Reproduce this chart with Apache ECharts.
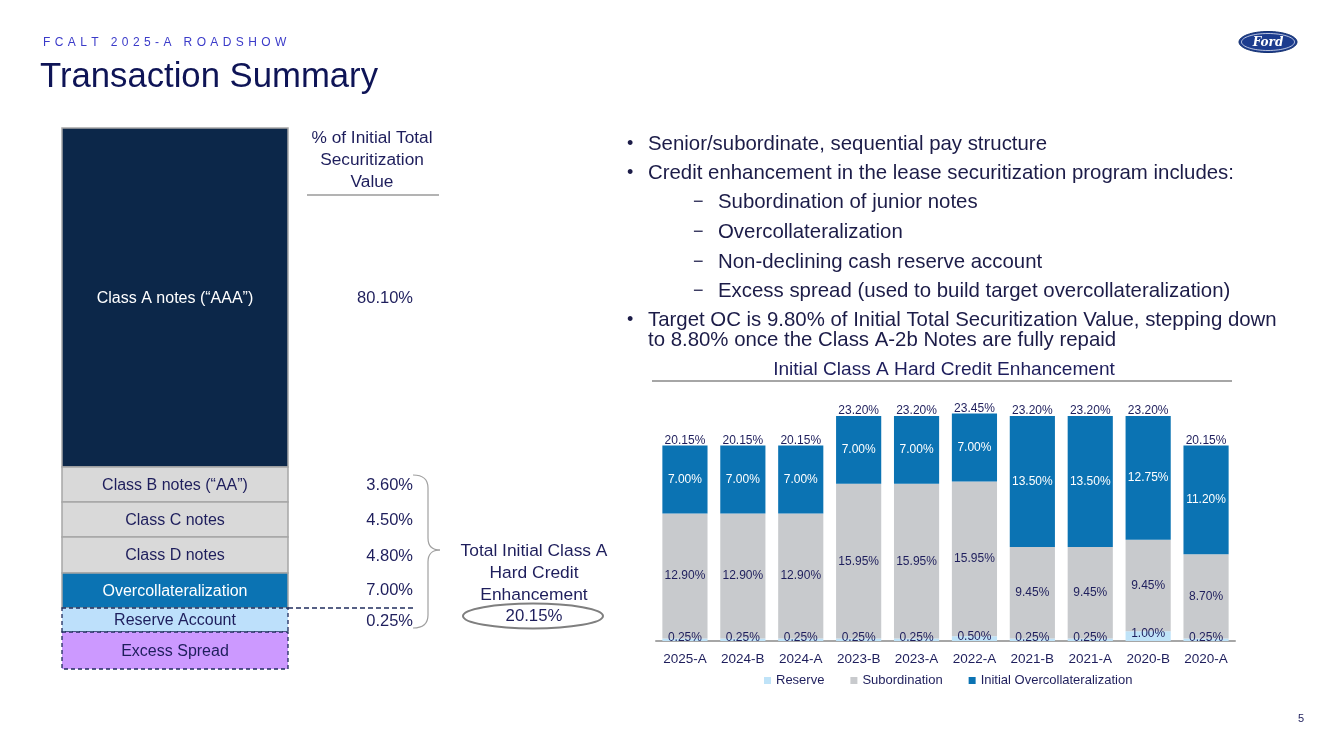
<!DOCTYPE html>
<html>
<head>
<meta charset="utf-8">
<script src="https://cdn.jsdelivr.net/npm/echarts@6/dist/echarts.min.js"></script>
<style>
  html, body { margin: 0; padding: 0; background: #ffffff; }
  #chart { width: 1333px; height: 749px; }
</style>
</head>
<body>
<div id="chart"></div>
<script>
// ---------------- Data ----------------
const headerText = 'FCALT 2025-A ROADSHOW';
const pageTitle = 'Transaction Summary';
const pageNumber = '5';

const categories = ['2025-A', '2024-B', '2024-A', '2023-B', '2023-A', '2022-A', '2021-B', '2021-A', '2020-B', '2020-A'];
const reserve = [0.25, 0.25, 0.25, 0.25, 0.25, 0.50, 0.25, 0.25, 1.00, 0.25];
const subordination = [12.90, 12.90, 12.90, 15.95, 15.95, 15.95, 9.45, 9.45, 9.45, 8.70];
const initialOC = [7.00, 7.00, 7.00, 7.00, 7.00, 7.00, 13.50, 13.50, 12.75, 11.20];
const totals = [20.15, 20.15, 20.15, 23.20, 23.20, 23.45, 23.20, 23.20, 23.20, 20.15];
const seriesNames = ['Reserve', 'Subordination', 'Initial Overcollateralization'];
const chartTitle = 'Initial Class A Hard Credit Enhancement';

const stackLayers = ['Class A notes (\u201CAAA\u201D)', 'Class B notes (\u201CAA\u201D)', 'Class C notes', 'Class D notes', 'Overcollateralization', 'Reserve Account', 'Excess Spread'];
const stackValues = ['80.10%', '3.60%', '4.50%', '4.80%', '7.00%', '0.25%', ''];
const pctHeader = ['% of Initial Total', 'Securitization', 'Value'];
const totalCaption = ['Total Initial Class A', 'Hard Credit', 'Enhancement'];
const totalValue = '20.15%';

const bulletLines = [
  { kind: 'bullet', text: 'Senior/subordinate, sequential pay structure' },
  { kind: 'bullet', text: 'Credit enhancement in the lease securitization program includes:' },
  { kind: 'dash', text: 'Subordination of junior notes' },
  { kind: 'dash', text: 'Overcollateralization' },
  { kind: 'dash', text: 'Non-declining cash reserve account' },
  { kind: 'dash', text: 'Excess spread (used to build target overcollateralization)' },
  { kind: 'bullet', text: 'Target OC is 9.80% of Initial Total Securitization Value, stepping down' },
  { kind: 'cont', text: 'to 8.80% once the Class A-2b Notes are fully repaid' }
];

// ---------------- Styles / layout ----------------
const FONT = '"Liberation Sans", Arial, sans-serif';
const NAVY = '#1e1e5c';
const C_RES = '#bfe3f8';
const C_SUB = '#c8cacd';
const C_OC = '#0b73b3';

function txt(x, y, text, size, fill, align, extra) {
  const st = {
    text: text, fill: fill, font: (extra && extra.font) || ('normal ' + size + 'px ' + FONT),
    textAlign: align || 'left', align: align || 'left',
    textVerticalAlign: 'middle', verticalAlign: 'middle'
  };
  return { type: 'text', x: x, y: y, silent: true, z: 10, style: st };
}

const g = [];

// header with letter spacing
(function () {
  const ctx = document.createElement('canvas').getContext('2d');
  ctx.font = 'normal 12px ' + FONT;
  let x = 43;
  for (const ch of headerText) {
    if (ch !== ' ') g.push(txt(x, 43, ch, 12, '#3b3bc9', 'left'));
    x += ctx.measureText(ch).width + 4.4;
  }
})();
g.push(txt(40, 77, pageTitle, 34.7, '#0e1456', 'left'));
g.push(txt(1304, 719, pageNumber, 11, NAVY, 'right'));

// Ford logo
g.push({ type: 'ellipse', shape: { cx: 1268, cy: 42, rx: 29, ry: 10.5 }, style: { fill: '#1c3c8e', stroke: '#13306f', lineWidth: 1 }, z: 5 });
g.push({ type: 'ellipse', shape: { cx: 1268, cy: 42, rx: 26.5, ry: 8.5 }, style: { fill: 'none', stroke: '#ffffff', lineWidth: 0.7 }, z: 6 });
g.push(txt(1268, 42.5, 'Ford', 12, '#ffffff', 'center', { font: 'italic bold 12px "DejaVu Serif", serif' }));

// left stacked diagram
const edges = [128, 467, 502, 537, 573, 608, 632, 669];
const fills = ['#0c2749', '#d9d9d9', '#d9d9d9', '#d9d9d9', C_OC, '#bde0fb', '#cc99ff'];
const textFill = ['#ffffff', NAVY, NAVY, NAVY, '#ffffff', NAVY, NAVY];
const dashed = [false, false, false, false, false, true, true];
for (let i = 0; i < stackLayers.length; i++) {
  const y0 = edges[i], y1 = edges[i + 1];
  g.push({
    type: 'rect', z: 2, shape: { x: 62, y: y0, width: 226, height: y1 - y0 },
    style: dashed[i]
      ? { fill: fills[i], stroke: '#1f2c5e', lineWidth: 1.3, lineDash: [4, 3] }
      : { fill: fills[i], stroke: '#a6a6a6', lineWidth: 1.5 }
  });
  const cy = (y0 + y1) / 2 + 1;
  g.push(txt(175, cy, stackLayers[i], 16, textFill[i], 'center'));
  if (stackValues[i]) g.push(txt(413, cy - (i === 4 ? 1.5 : 0), stackValues[i], 16.5, NAVY, 'right'));
}
pctHeader.forEach((t, i) => g.push(txt(372, 138 + i * 22, t, 17.3, NAVY, 'center')));
g.push({ type: 'line', shape: { x1: 307, y1: 195, x2: 439, y2: 195 }, style: { stroke: '#9a9a9a', lineWidth: 1.5 } });
g.push({ type: 'line', shape: { x1: 288, y1: 608, x2: 416, y2: 608 }, style: { stroke: '#1f2c5e', lineWidth: 1.3, lineDash: [5, 3] }, z: 3 });
// brace
const braceStyle = { fill: 'none', stroke: '#a0a0a0', lineWidth: 1.2 };
g.push({ type: 'bezierCurve', z: 3, shape: { x1: 413, y1: 475, x2: 428, y2: 488, cpx1: 428, cpy1: 475 }, style: braceStyle });
g.push({ type: 'line', z: 3, shape: { x1: 428, y1: 488, x2: 428, y2: 538 }, style: braceStyle });
g.push({ type: 'bezierCurve', z: 3, shape: { x1: 428, y1: 538, x2: 440, y2: 550, cpx1: 428, cpy1: 550 }, style: braceStyle });
g.push({ type: 'bezierCurve', z: 3, shape: { x1: 440, y1: 550, x2: 428, y2: 562, cpx1: 428, cpy1: 550 }, style: braceStyle });
g.push({ type: 'line', z: 3, shape: { x1: 428, y1: 562, x2: 428, y2: 615 }, style: braceStyle });
g.push({ type: 'bezierCurve', z: 3, shape: { x1: 428, y1: 615, x2: 413, y2: 628, cpx1: 428, cpy1: 628 }, style: braceStyle });

totalCaption.forEach((t, i) => g.push(txt(534, 551 + i * 22, t, 17.4, NAVY, 'center')));
g.push({ type: 'ellipse', shape: { cx: 533, cy: 616, rx: 70, ry: 12.5 }, style: { fill: 'none', stroke: '#7f7f7f', lineWidth: 2 }, z: 3 });
g.push(txt(534, 616, totalValue, 16.8, NAVY, 'center'));

// bullets
const bulletY = [143, 172, 201, 231, 261, 290, 319, 339];
const BF = 20.4;
bulletLines.forEach((b, i) => {
  const y = bulletY[i] + 1;
  if (b.kind === 'bullet') {
    g.push(txt(627, y, '\u2022', 18, '#1c1c48', 'left'));
    g.push(txt(648, y, b.text, BF, '#1c1c48', 'left'));
  } else if (b.kind === 'dash') {
    g.push(txt(693, y, '\u2212', 18, '#1c1c48', 'left'));
    g.push(txt(718, y, b.text, BF, '#1c1c48', 'left'));
  } else {
    g.push(txt(648, y, b.text, BF, '#1c1c48', 'left'));
  }
});

// chart title + rule
g.push(txt(944, 370, chartTitle, 19.1, NAVY, 'center'));
g.push({ type: 'line', shape: { x1: 652, y1: 381, x2: 1232, y2: 381 }, style: { stroke: '#a6a6a6', lineWidth: 2 } });

// ---------------- Chart ----------------
const chart = echarts.init(document.getElementById('chart'), null, { renderer: 'canvas' });
const pctFmt = p => Number(p.value).toFixed(2) + '%';
const lblBase = { show: true, fontFamily: FONT, fontSize: 12, formatter: pctFmt };

chart.setOption({
  animation: false,
  backgroundColor: '#ffffff',
  textStyle: { fontFamily: FONT },
  grid: { left: 656, right: 98, top: 398.5, bottom: 108, containLabel: false },
  legend: {
    data: seriesNames, top: 669, left: 759,
    itemWidth: 7, itemHeight: 7, itemGap: 26, icon: 'rect',
    textStyle: { color: NAVY, fontSize: 13, fontFamily: FONT }
  },
  xAxis: {
    type: 'category', data: categories, boundaryGap: true,
    axisLine: { lineStyle: { color: '#a6a6a6', width: 2 } },
    axisTick: { show: false },
    axisLabel: { color: NAVY, fontSize: 13.5, fontFamily: FONT, margin: 11 }
  },
  yAxis: { type: 'value', min: 0, max: 25, show: false },
  series: [
    {
      name: seriesNames[0], type: 'bar', stack: 'ce', data: reserve, barCategoryGap: '22%',
      itemStyle: { color: C_RES },
      label: Object.assign({}, lblBase, { position: 'inside', color: NAVY, offset: [0, -2] })
    },
    {
      name: seriesNames[1], type: 'bar', stack: 'ce', data: subordination,
      itemStyle: { color: C_SUB },
      label: Object.assign({}, lblBase, { position: 'inside', color: NAVY })
    },
    {
      name: seriesNames[2], type: 'bar', stack: 'ce', data: initialOC,
      itemStyle: { color: C_OC },
      label: Object.assign({}, lblBase, { position: 'inside', color: '#ffffff' })
    },
    {
      name: 'Total', type: 'bar', data: totals, barGap: '-100%', silent: true,
      itemStyle: { color: 'rgba(0,0,0,0)' }, z: 1,
      label: Object.assign({}, lblBase, { position: 'top', distance: -1, color: NAVY })
    }
  ],
  graphic: { elements: g }
});
</script>
</body>
</html>
